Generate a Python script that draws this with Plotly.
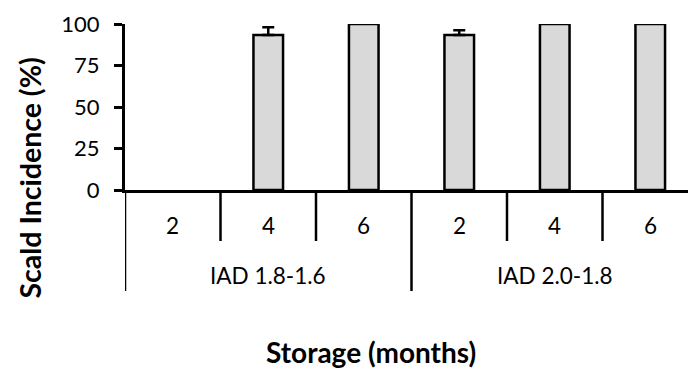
import plotly.graph_objects as go

# Scald incidence by storage duration for two IAD harvest classes
groups = ["IAD 1.8-1.6", "IAD 2.0-1.8"]
months = ["2", "4", "6"]
incidence = [0, 93.3, 100, 93.3, 100, 100]      # %
error_plus = [0, 4.7, 0, 3.0, 0, 0]             # upper error (%)
y_ticks = [0, 25, 50, 75, 100]

W, H = 688, 370
L, R, T, B = 125, 0, 24, 180
plot_w = W - L - R
plot_h = H - T - B
cat_px = 95.5  # pixel width of one storage category

n = len(groups) * len(months)
xpos = list(range(n))
x_range = [-0.5, -0.5 + plot_w / cat_px]

FONT = "Lato"
BLACK = "#000000"


def py(pixel_y):
    """Convert a page pixel row to paper y."""
    return (H - B - pixel_y) / plot_h


def px(pixel_x):
    """Convert a page pixel column to paper x."""
    return (pixel_x - L) / plot_w


# empty bars get no outline
outline_w = [2.5 if v > 0 else 0 for v in incidence]

fig = go.Figure()
fig.add_trace(go.Bar(
    x=xpos,
    y=incidence,
    width=0.31,
    marker=dict(color="#d9d9d9", line=dict(color=BLACK, width=outline_w)),
    showlegend=False,
    hoverinfo="skip",
))

# upper whiskers only where an error was measured
err_idx = [i for i, e in enumerate(error_plus) if e > 0]
fig.add_trace(go.Scatter(
    x=[xpos[i] for i in err_idx],
    y=[incidence[i] for i in err_idx],
    mode="markers",
    marker=dict(size=1, opacity=0),
    error_y=dict(type="data", symmetric=False,
                 array=[error_plus[i] for i in err_idx],
                 arrayminus=[0] * len(err_idx),
                 color=BLACK, thickness=2.5, width=6),
    showlegend=False,
))

shapes = []
annotations = []
for gi, g in enumerate(groups):
    for mi, m in enumerate(months):
        k = gi * len(months) + mi
        left = k - 0.5
        long_line = mi == 0
        shapes.append(dict(type="line", xref="x", yref="paper",
                           x0=left, x1=left, y0=0,
                           y1=py(291) if long_line else py(241),
                           line=dict(color=BLACK, width=2.5)))
        annotations.append(dict(text=m, xref="x", yref="paper", x=k, y=py(225),
                                showarrow=False, xanchor="center", yanchor="middle",
                                font=dict(family=FONT, size=22.5, color=BLACK)))
    centre = gi * len(months) + (len(months) - 1) / 2
    annotations.append(dict(text=g, xref="x", yref="paper", x=centre, y=py(275),
                            showarrow=False, xanchor="center", yanchor="middle",
                            font=dict(family=FONT, size=22.5, color=BLACK)))

annotations.append(dict(text="<b>Storage (months)</b>", xref="paper", yref="paper",
                        x=px(371), y=py(352), showarrow=False,
                        xanchor="center", yanchor="middle",
                        font=dict(family=FONT, size=28, color=BLACK)))
annotations.append(dict(text="<b>Scald Incidence (%)</b>", xref="paper", yref="paper",
                        x=px(29), y=py(178.5), showarrow=False, textangle=-90,
                        xanchor="center", yanchor="middle",
                        font=dict(family=FONT, size=28.5, color=BLACK)))

fig.update_layout(
    width=W, height=H,
    margin=dict(l=L, r=R, t=T, b=B, pad=0),
    paper_bgcolor="white", plot_bgcolor="white",
    shapes=shapes, annotations=annotations,
    xaxis=dict(range=x_range, showticklabels=False, ticks="", showgrid=False,
               zeroline=False, showline=True, linecolor=BLACK, linewidth=3),
    yaxis=dict(range=[0, 100], tickvals=y_ticks, ticks="outside", ticklen=8,
               tickwidth=2.5, tickcolor=BLACK, showgrid=False, zeroline=False,
               showline=True, linecolor=BLACK, linewidth=3,
               ticklabelstandoff=10,
               tickfont=dict(family=FONT, size=22, color=BLACK)),
)

fig.write_html("out.html")
